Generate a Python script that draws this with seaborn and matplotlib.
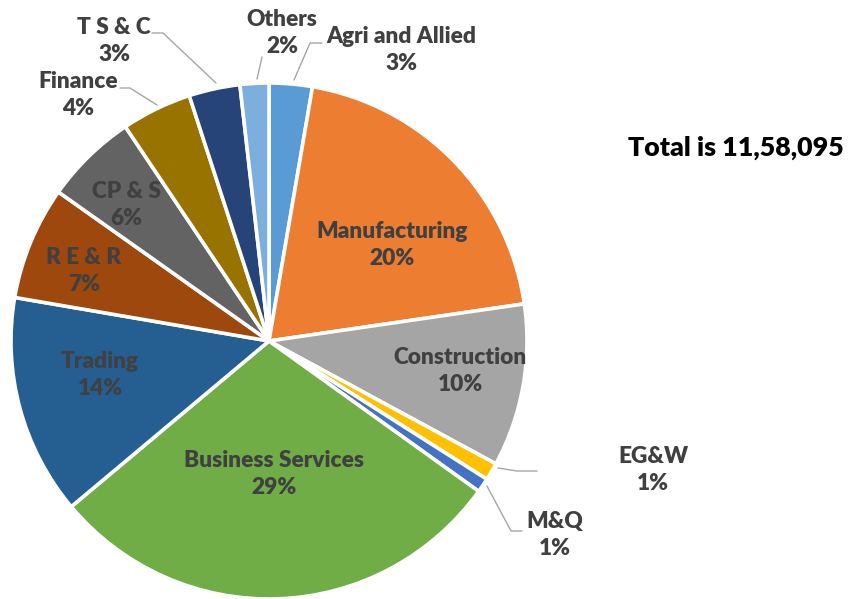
import numpy as np
import seaborn as sns
import matplotlib.pyplot as plt

# =========================
# data (share of total, %)
# =========================
sectors = ['Agri and Allied', 'Manufacturing', 'Construction', 'EG&W', 'M&Q',
           'Business Services', 'Trading', 'R E & R', 'CP & S', 'Finance',
           'T S & C', 'Others']
shares = [2.7, 20.0, 10.2, 1.1, 0.9, 29.0, 13.8, 7.1, 5.8, 4.4, 3.2, 1.8]
total_text = 'Total is 11,58,095'

colors = ['#5B9BD5', '#ED7D31', '#A5A5A5', '#FFC000', '#4472C4', '#70AD47',
          '#255E91', '#9E480E', '#636363', '#997300', '#264478', '#7CAFDD']

# label centres (image pixels, y down)
label_pos = {
    'Agri and Allied': (401, 50), 'Manufacturing': (392, 245),
    'Construction': (460, 371), 'EG&W': (653, 470), 'M&Q': (555, 535),
    'Business Services': (274, 474), 'Trading': (100, 375),
    'R E & R': (84, 271), 'CP & S': (126, 205), 'Finance': (78, 95),
    'T S & C': (114, 41), 'Others': (282, 33),
}
# leader lines (image pixels)
leaders = {
    'Agri and Allied': [(294, 80), (310, 43), (322, 43)],
    'Others': [(257, 79), (262, 57)],
    'T S & C': [(216, 83), (163, 33), (152, 33)],
    'Finance': [(157, 105), (130, 88), (120, 88)],
    'EG&W': [(498, 468), (517, 471), (537, 471)],
    'M&Q': [(487, 486), (511, 531), (522, 531)],
}

W, H = 848, 599

sns.set_theme(style='white')
plt.rcParams['font.family'] = ['Lato', 'DejaVu Sans']

fig = plt.figure(figsize=(W / 100, H / 100), dpi=100)
ax = fig.add_axes([0, 0, 1, 1])

ax.pie(shares, colors=sns.color_palette(colors), startangle=90, counterclock=False,
       center=(269, H - 341), radius=258, frame=True,
       wedgeprops=dict(edgecolor='white', linewidth=2.6))
ax.set_xlim(0, W)
ax.set_ylim(0, H)
ax.set_aspect('equal')
ax.axis('off')

for name, pts in leaders.items():
    xs = [p[0] for p in pts]
    ys = [H - p[1] for p in pts]
    ax.plot(xs, ys, color='#A6A6A6', lw=1.0)

for name, val in zip(sectors, shares):
    x, y = label_pos[name]
    ax.text(x, H - y, f'{name}\n{val:.0f}%', ha='center', va='center',
            fontsize=16.3, fontweight='heavy', color='#404040', linespacing=1.4)

ax.text(736, H - 148, total_text, ha='center', va='center', fontsize=19.3,
        fontweight='heavy', color='black')

fig.savefig('out.png', dpi=100)
